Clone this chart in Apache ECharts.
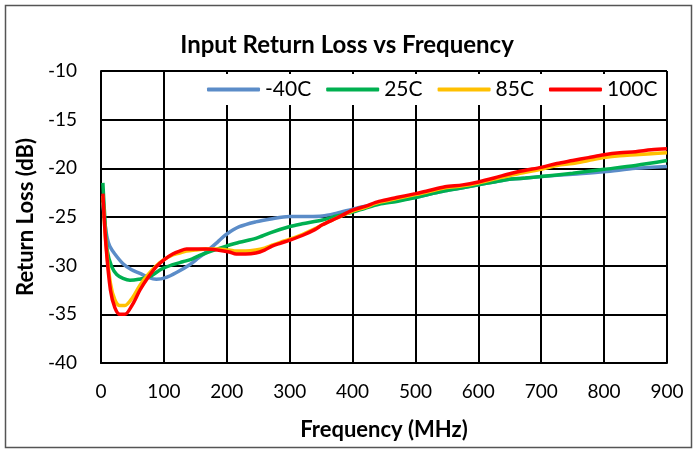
<!DOCTYPE html>
<html>
<head>
<meta charset="utf-8">
<script src="https://cdn.jsdelivr.net/npm/echarts@6/dist/echarts.min.js"></script>
<style>
  html, body { margin: 0; padding: 0; background: #fff; }
  #main { width: 694px; height: 449px; }
</style>
</head>
<body>
<div id="main"></div>
<script>
// series names and colours
var seriesNames = ['-40C', '25C', '85C', '100C'];
var seriesColors = ['#5B8CC8', '#00B050', '#FFC000', '#FF0000'];

// [frequency MHz, return loss dB]
var m40C = [[3,-23.5],[6,-25.5],[10,-27.2],[14,-28.0],[22,-28.8],[35,-29.8],[48,-30.4],[62,-30.8],[75,-31.2],[88,-31.4],[104,-31.2],[120,-30.7],[141,-29.9],[155,-29.2],[167,-28.6],[185,-27.6],[199,-26.8],[220,-26.0],[246,-25.5],[270,-25.2],[299,-24.95],[330,-24.95],[352,-24.9],[375,-24.6],[400,-24.2],[420,-23.9],[442,-23.6],[470,-23.3],[500,-23.0],[520,-22.7],[547,-22.3],[575,-22.0],[600,-21.7],[625,-21.4],[653,-21.1],[675,-21.0],[700,-20.85],[750,-20.6],[800,-20.35],[850,-20.0],[900,-19.8]];
var p25C = [[3,-21.5],[6,-25],[10,-28.5],[17,-30.1],[25,-30.9],[35,-31.3],[46,-31.5],[60,-31.4],[78,-31.1],[95,-30.4],[114,-29.9],[130,-29.6],[141,-29.4],[155,-29.0],[167,-28.7],[185,-28.3],[199,-28.0],[220,-27.6],[246,-27.2],[270,-26.6],[299,-26.0],[320,-25.7],[352,-25.3],[375,-24.9],[400,-24.5],[420,-24.1],[442,-23.7],[470,-23.4],[500,-23.0],[520,-22.7],[547,-22.3],[575,-22.0],[600,-21.7],[625,-21.4],[653,-21.1],[675,-21.0],[700,-20.85],[750,-20.5],[800,-20.1],[850,-19.7],[900,-19.2]];
var p85C = [[3,-22.8],[8,-27.8],[15,-31.8],[22,-33.5],[30,-34.1],[38,-34.1],[50,-33.3],[62,-32.0],[75,-30.9],[88,-30.0],[100,-29.4],[114,-28.9],[125,-28.7],[136,-28.5],[150,-28.4],[167,-28.3],[185,-28.3],[204,-28.4],[215,-28.5],[230,-28.5],[246,-28.4],[260,-28.2],[272,-27.9],[285,-27.6],[299,-27.3],[320,-26.8],[340,-26.2],[352,-25.8],[375,-25.1],[400,-24.4],[420,-24.0],[442,-23.5],[470,-23.1],[500,-22.7],[520,-22.4],[547,-22.0],[575,-21.8],[600,-21.5],[625,-21.1],[653,-20.7],[675,-20.4],[700,-20.1],[725,-19.7],[750,-19.5],[775,-19.2],[800,-18.9],[825,-18.7],[850,-18.6],[875,-18.5],[900,-18.4]];
var p100C = [[3,-22.6],[8,-28],[15,-32.5],[22,-34.3],[30,-35.0],[38,-35.0],[50,-34.0],[62,-32.5],[75,-31.2],[88,-30.1],[100,-29.4],[114,-28.8],[125,-28.5],[136,-28.3],[150,-28.3],[167,-28.3],[185,-28.4],[204,-28.6],[215,-28.8],[230,-28.8],[246,-28.7],[260,-28.4],[272,-28.0],[285,-27.7],[299,-27.4],[320,-26.9],[340,-26.3],[352,-25.8],[375,-25.1],[400,-24.3],[420,-23.9],[442,-23.4],[470,-23.0],[500,-22.6],[520,-22.3],[547,-21.9],[575,-21.7],[600,-21.4],[625,-21.0],[653,-20.5],[675,-20.2],[700,-19.9],[725,-19.5],[750,-19.2],[775,-18.9],[800,-18.6],[825,-18.4],[850,-18.3],[875,-18.1],[900,-18.0]];
var seriesData = [m40C, p25C, p85C, p100C];

var font = 'Lato, "Open Sans", sans-serif';
var chart = echarts.init(document.getElementById('main'), null, { renderer: 'canvas' });

var options = {
  animation: false,
  backgroundColor: '#fff',
  textStyle: { fontFamily: font },
  title: {
    text: 'Input Return Loss vs Frequency',
    left: 'center',
    top: 28,
    textStyle: { fontFamily: font, fontSize: 24, fontWeight: 'bold', color: '#000' }
  },
  grid: { left: 101, right: 27, top: 71, bottom: 86 },
  legend: {
    data: seriesNames,
    left: 199,
    top: 74,
    backgroundColor: '#fff',
    padding: [5, 8, 5, 8],
    itemWidth: 53,
    itemHeight: 4,
    itemGap: 15,
    icon: 'roundRect',
    textStyle: { fontFamily: font, fontSize: 21, color: '#000' }
  },
  xAxis: {
    type: 'value',
    min: 0,
    max: 900,
    interval: 100,
    name: 'Frequency (MHz)',
    nameLocation: 'middle',
    nameGap: 56,
    nameTextStyle: { fontFamily: font, fontSize: 22, fontWeight: 'bold', color: '#000' },
    axisLine: { show: true, lineStyle: { color: '#000', width: 2 } },
    axisTick: { show: false },
    axisLabel: { fontFamily: font, fontSize: 19, color: '#000', margin: 19 },
    splitLine: { show: true, lineStyle: { color: '#000', width: 2 } }
  },
  yAxis: {
    type: 'value',
    min: -40,
    max: -10,
    interval: 5,
    name: 'Return Loss (dB)',
    nameLocation: 'middle',
    nameGap: 60,
    nameTextStyle: { fontFamily: font, fontSize: 22, fontWeight: 'bold', color: '#000' },
    axisLine: { show: true, lineStyle: { color: '#000', width: 2 } },
    axisTick: { show: false },
    axisLabel: { fontFamily: font, fontSize: 19, color: '#000', margin: 24 },
    splitLine: { show: true, lineStyle: { color: '#000', width: 2 } }
  },
  graphic: [{
    type: 'rect',
    left: 3,
    top: 3,
    shape: { width: 686, height: 442 },
    style: { fill: null, stroke: '#555', lineWidth: 1.5 },
    silent: true
  }],
  series: seriesNames.map(function (name, i) {
    return {
      name: name,
      type: 'line',
      data: seriesData[i],
      showSymbol: false,
      smooth: 0.3,
      color: seriesColors[i],
      lineStyle: { width: 3.5, color: seriesColors[i] }
    };
  })
};
chart.setOption(options);
</script>
</body>
</html>
